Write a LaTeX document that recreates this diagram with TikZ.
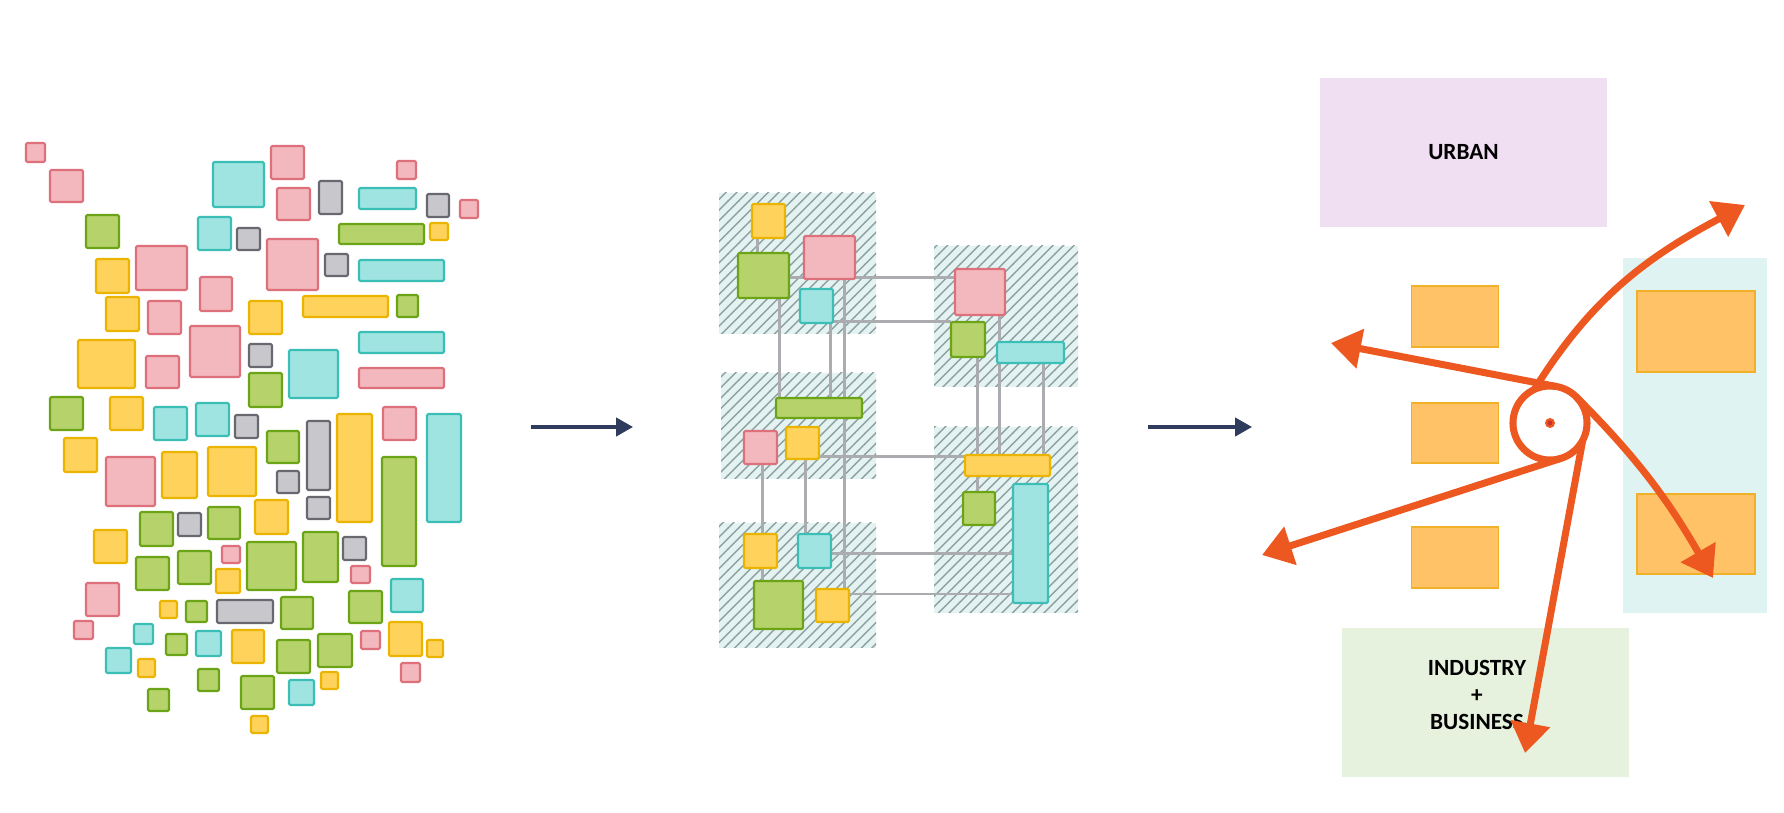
\documentclass[tikz,border=0pt]{standalone}
\usepackage{fontspec}
\newfontfamily\lblfont{Carlito}
\usepackage{tikz}
\usetikzlibrary{positioning,arrows.meta,patterns}

\definecolor{pkfill}{RGB}{243,184,190}
\definecolor{pkdraw}{RGB}{222,112,124}
\definecolor{cyfill}{RGB}{160,228,226}
\definecolor{cydraw}{RGB}{58,190,182}
\definecolor{gnfill}{RGB}{182,210,106}
\definecolor{gndraw}{RGB}{108,164,24}
\definecolor{ylfill}{RGB}{255,210,92}
\definecolor{yldraw}{RGB}{234,180,0}
\definecolor{gyfill}{RGB}{200,200,204}
\definecolor{gydraw}{RGB}{104,104,112}
\definecolor{zonebg}{RGB}{228,243,242}
\definecolor{hatch}{RGB}{140,162,162}
\definecolor{linkgray}{RGB}{170,172,176}
\definecolor{navy}{RGB}{47,60,94}
\definecolor{urbanbg}{RGB}{240,222,243}
\definecolor{indbg}{RGB}{230,241,222}
\definecolor{portbg}{RGB}{222,243,242}
\definecolor{blockfill}{RGB}{255,194,102}
\definecolor{blockdraw}{RGB}{240,176,40}
\definecolor{flow}{RGB}{236,88,32}
\definecolor{dotred}{RGB}{200,50,50}

\pgfdeclarelayer{zones}
\pgfdeclarelayer{links}
\pgfsetlayers{zones,links,main}

\begin{document}
\begin{tikzpicture}[
    x=0.01cm, y=-0.01cm,
    lbox/.style={line width=0.6pt, rounded corners=0.4pt},
    pk/.style={lbox, fill=pkfill, draw=pkdraw},
    cy/.style={lbox, fill=cyfill, draw=cydraw},
    gn/.style={lbox, fill=gnfill, draw=gndraw},
    yl/.style={lbox, fill=ylfill, draw=yldraw},
    gy/.style={lbox, fill=gyfill, draw=gydraw},
    sz/.style 2 args={minimum width=#1*0.01cm, minimum height=#2*0.01cm},
    mbox/.style={rectangle, inner sep=0pt, outer sep=0pt},
    zone/.style={fill=zonebg, postaction={pattern=north east lines, pattern color=hatch}},
    link/.style={draw=linkgray, line width=0.85pt},
    nextarr/.style={-{Triangle[length=4.8pt, width=5.2pt]}, draw=navy, line width=0.9pt},
    area/.style={rectangle, inner sep=0pt, outer sep=0pt, align=center,
        font=\lblfont\bfseries\fontsize{6.6}{7.7}\selectfont},
    block/.style={mbox, fill=blockfill, draw=blockdraw, line width=0.5pt},
    flowarr/.style={-{Triangle[length=8.5pt, width=11pt]}, draw=flow, line width=2pt}
]
\useasboundingbox (0,0) rectangle (1784,813);

% scattered programme
\foreach \xa/\ya/\xb/\yb in {26/143/45/162, 50/170/83/202, 271/146/304/179, 397/161/416/179,
    277/188/310/220, 460/200/478/218, 136/246/187/290, 267/239/318/290, 200/277/232/311,
    148/301/181/334, 146/356/179/388, 190/326/240/377, 359/368/444/388, 383/407/416/440,
    106/457/155/506, 222/546/240/563, 351/566/370/583, 86/583/119/616, 74/621/93/639,
    361/631/380/649, 401/663/420/682}
    \draw[pk] (\xa,\ya) rectangle (\xb,\yb);
\foreach \xa/\ya/\xb/\yb in {213/162/264/207, 359/188/416/209, 198/217/231/250, 359/260/444/281,
    289/350/338/398, 359/332/444/353, 154/407/187/440, 196/403/229/436, 427/414/461/522,
    391/579/423/612, 134/624/153/644, 196/631/221/656, 106/648/131/673, 289/680/314/705}
    \draw[cy] (\xa,\ya) rectangle (\xb,\yb);
\foreach \xa/\ya/\xb/\yb in {86/215/119/248, 339/224/424/244, 397/295/418/317, 249/373/282/407,
    50/397/83/430, 267/431/299/463, 382/457/416/566, 140/512/173/546, 208/507/240/539,
    136/557/169/590, 178/551/211/584, 247/542/296/590, 303/532/338/582, 186/601/207/622,
    281/597/313/629, 349/591/382/623, 166/634/187/655, 277/640/310/673, 318/634/352/667,
    198/669/219/691, 241/676/274/709, 148/689/169/711}
    \draw[gn] (\xa,\ya) rectangle (\xb,\yb);
\foreach \xa/\ya/\xb/\yb in {430/223/448/240, 96/259/129/293, 106/297/139/331, 249/301/282/334,
    303/296/388/317, 78/340/135/388, 110/397/143/430, 337/414/372/522, 64/438/97/472,
    162/452/197/498, 208/447/256/496, 255/500/288/534, 94/530/127/563, 216/569/240/593,
    160/601/177/618, 232/630/264/663, 389/622/422/656, 427/640/443/657, 138/659/155/677,
    321/672/338/689, 251/716/268/733}
    \draw[yl] (\xa,\ya) rectangle (\xb,\yb);
\foreach \xa/\ya/\xb/\yb in {319/181/342/214, 427/194/449/217, 237/228/260/250, 325/254/348/276,
    249/344/272/367, 235/415/258/438, 307/421/330/490, 277/471/299/493, 307/497/330/519,
    178/513/201/536, 343/537/366/560, 217/600/273/623}
    \draw[gy] (\xa,\ya) rectangle (\xb,\yb);

\coordinate (s1a) at (531,427);
\coordinate (s1b) at (633,427);
\draw[nextarr] (s1a) -- (s1b);

% clustered programme
\begin{pgfonlayer}{zones}
\fill[zone] (719,193) rectangle (876,334);
\fill[zone] (721,373) rectangle (876,479);
\fill[zone] (719,523) rectangle (876,648);
\fill[zone] (934,246) rectangle (1078,387);
\fill[zone] (934,427) rectangle (1078,613);
\end{pgfonlayer}

\node[mbox, yl, sz={33}{34}] (my1) at (768.5,221) {};
\node[mbox, gn, sz={51}{45}] (mg1) at (763.5,275.5) {};
\node[mbox, pk, sz={51}{43}] (mp1) at (829.5,257.5) {};
\node[mbox, cy, sz={33}{34}] (mc1) at (816.5,306) {};
\node[mbox, pk, sz={50}{46}] (mp2) at (980,292) {};
\node[mbox, gn, sz={34}{35}] (mg2) at (968,339.5) {};
\node[mbox, cy, sz={67}{21}] (mc2) at (1030.5,352.5) {};
\node[mbox, gn, sz={86}{20}] (mg3) at (819,408) {};
\node[mbox, pk, sz={33}{33}] (mp3) at (760.5,447.5) {};
\node[mbox, yl, sz={33}{32}] (my2) at (802.5,443) {};
\node[mbox, yl, sz={85}{21}] (my3) at (1007.5,465.5) {};
\node[mbox, gn, sz={32}{33}] (mg4) at (979,508.5) {};
\node[mbox, cy, sz={35}{119}] (mc3) at (1030.5,543.5) {};
\node[mbox, yl, sz={33}{34}] (my4) at (760.5,551) {};
\node[mbox, cy, sz={33}{34}] (mc4) at (814.5,551) {};
\node[mbox, gn, sz={49}{48}] (mg5) at (778.5,605) {};
\node[mbox, yl, sz={33}{33}] (my5) at (832.5,605.5) {};

\begin{pgfonlayer}{links}
\draw[link] (mg1.east |- 0,278) -- (mp2.west |- 0,278);
\draw[link] (mc1.east |- 0,322) -- (mg2.west |- 0,322);
\draw[link] (my2.east |- 0,457) -- (my3.west |- 0,457);
\draw[link] (mc4.east |- 0,554) -- (mc3.west |- 0,554);
\draw[link] (my5.east |- 0,594) -- (mc3.west |- 0,594);
\draw[link] (mg1.south -| 779,0) -- (mg3.north -| 779,0);
\draw[link] (mc1.south -| 830,0) -- (mg3.north -| 830,0);
\draw[link] (mp1.south -| 844,0) -- (my5.north -| 844,0);
\draw[link] (mp3.south -| 762,0) -- (my4.north -| 762,0);
\draw[link] (my2.south -| 805,0) -- (mc4.north -| 805,0);
\draw[link] (mg2.south -| 977,0) -- (mg4.north -| 977,0);
\draw[link] (mp2.south -| 999,0) -- (my3.north -| 999,0);
\draw[link] (mc2.south -| 1043,0) -- (my3.north -| 1043,0);
\draw[link] (my1.south -| 757,0) -- (mg1.north -| 757,0);
\draw[link] (my4.south -| 762,0) -- (mg5.north -| 762,0);
\end{pgfonlayer}

\coordinate (s2a) at (1148,427);
\coordinate (s2b) at (1252,427);
\draw[nextarr] (s2a) -- (s2b);

% zoning
\node[area, fill=urbanbg, sz={287}{149}] (urban) at (1463.5,152.5) {URBAN};
\node[area, fill=indbg, sz={287}{149}] (industry) at (1485.5,702.5) {};
\node[area] (indlabel) at (1477,695) {INDUSTRY\\+\\BUSINESS};
\node[mbox, fill=portbg, sz={144}{355}] (port) at (1695,435.5) {};

\node[block, sz={87}{61}] (ob1) at (1455,316.5) {};
\node[block, sz={87}{60}] (ob2) at (1455,433) {};
\node[block, sz={87}{61}] (ob3) at (1455,557.5) {};
\node[block, sz={118}{81}] (ob4) at (1696,331.5) {};
\node[block, sz={118}{80}] (ob5) at (1696,534) {};

\node[circle, draw=flow, line width=2pt, inner sep=0pt, outer sep=0pt, minimum size=0.74cm] (hub) at (1550,423) {};
\fill[flow] (hub.center) circle (5);
\fill[dotred] (hub.center) circle (2.4);

\coordinate (tUR) at (1745,205);
\coordinate (tL) at (1331,343);
\coordinate (tLL) at (1262,555);
\coordinate (tBR) at (1713,578);
\coordinate (tB) at (1525,753);

\draw[flowarr] (hub.80) -- (tL);
\draw[flowarr] (hub.115) to[out=58, in=-152] (tUR);
\draw[flowarr] (hub.45) to[out=-45, in=120] (tBR);
\draw[flowarr] (hub.-72) -- (tLL);
\draw[flowarr] (hub.-28) -- (tB);

\end{tikzpicture}
\end{document}
